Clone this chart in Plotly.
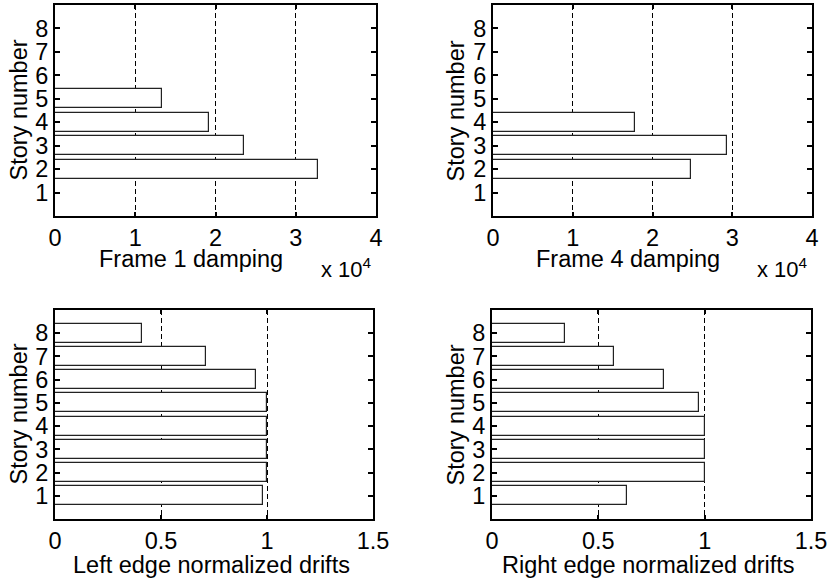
import plotly.graph_objects as go

stories = [1, 2, 3, 4, 5, 6, 7, 8]
frame1_damping = [0, 3.28, 2.36, 1.915, 1.333, 0, 0, 0]   # x 10^4
frame4_damping = [0, 2.48, 2.93, 1.78, 0, 0, 0, 0]        # x 10^4
left_drifts = [0.979, 1.0, 1.0, 1.0, 1.0, 0.949, 0.714, 0.41]
right_drifts = [0.634, 1.0, 1.0, 1.0, 0.975, 0.807, 0.573, 0.345]

x_titles = ["Frame 1 damping", "Frame 4 damping",
            "Left edge normalized drifts", "Right edge normalized drifts"]
y_title = "Story number"
x_ticks_top = [0, 1, 2, 3, 4]
x_ticks_bottom = [0, 0.5, 1, 1.5]
x_ticktext_bottom = ["0", "0.5", "1", "1.5"]

W, H = 829, 581
FONT = "Liberation Sans, Arial, sans-serif"
FS = 23.5

# panel pixel boxes in screen coords: (left, right, top, bottom)
boxes = [(55, 376, 5, 216), (493, 812, 5, 216),
         (55, 373, 310, 519), (492, 811, 310, 519)]


def px(x):
    return x / W


def py(y):
    return 1 - y / H


fig = go.Figure()
series = [frame1_damping, frame4_damping, left_drifts, right_drifts]
for i, vals in enumerate(series):
    ys = [s for s, v in zip(stories, vals) if v > 0]
    xs = [v for v in vals if v > 0]
    n = "" if i == 0 else str(i + 1)
    fig.add_trace(go.Bar(
        x=xs, y=ys, orientation="h", width=0.82, base=0,
        marker=dict(color="white", line=dict(color="#222", width=1.2)),
        xaxis="x" + n, yaxis="y" + n, showlegend=False, hoverinfo="skip"))

layout = dict(width=W, height=H, margin=dict(l=0, r=0, t=0, b=0, autoexpand=False),
              paper_bgcolor="white", plot_bgcolor="white",
              font=dict(family=FONT, size=FS, color="black"), bargap=0)

annotations = []
for i, (l, r, t, b) in enumerate(boxes):
    n = "" if i == 0 else str(i + 1)
    top = i < 2
    xa = dict(domain=[px(l), px(r)], anchor="y" + n,
              range=[0, 4] if top else [0, 1.5],
              tickvals=x_ticks_top if top else x_ticks_bottom,
              ticktext=[str(v) for v in x_ticks_top] if top else x_ticktext_bottom,
              ticks="inside", ticklen=4, tickwidth=1.5, tickcolor="black",
              showline=True, linecolor="black", linewidth=2, mirror="ticks",
              showgrid=True, gridcolor="black", gridwidth=1.2, griddash="5px,3px",
              zeroline=False, tickfont=dict(size=FS), fixedrange=True, automargin=False)
    ya = dict(domain=[py(b), py(t)], anchor="x" + n,
              range=[0, 9], tickvals=stories,
              ticks="inside", ticklen=5, tickwidth=1.5, tickcolor="black",
              showline=True, linecolor="black", linewidth=2, mirror="ticks",
              showgrid=False, zeroline=False, tickfont=dict(size=FS), fixedrange=True,
              automargin=False)
    layout["xaxis" + n] = xa
    layout["yaxis" + n] = ya

    # x title
    cx = {0: 191, 1: 628, 2: 211, 3: 648}[i]
    cy = 259 if top else 565
    annotations.append(dict(text=x_titles[i], x=px(cx), y=py(cy),
                            xref="paper", yref="paper", showarrow=False,
                            xanchor="center", yanchor="middle", font=dict(size=FS)))
    # y title
    ycx = 18 if i % 2 == 0 else 455
    ycy = (t + b) / 2
    annotations.append(dict(text=y_title, x=px(ycx), y=py(ycy),
                            xref="paper", yref="paper", showarrow=False, textangle=-90,
                            xanchor="center", yanchor="middle", font=dict(size=FS)))
    if top:
        annotations.append(dict(text="x 10<sup>4</sup>", x=px(r - 2), y=py(268),
                                xref="paper", yref="paper", showarrow=False,
                                xanchor="right", yanchor="middle", font=dict(size=22)))

layout["annotations"] = annotations
fig.update_layout(**layout)
fig.write_html("out.html", config={"displayModeBar": False},
               post_script="document.body.style.margin='0px';document.body.style.padding='0px';")
